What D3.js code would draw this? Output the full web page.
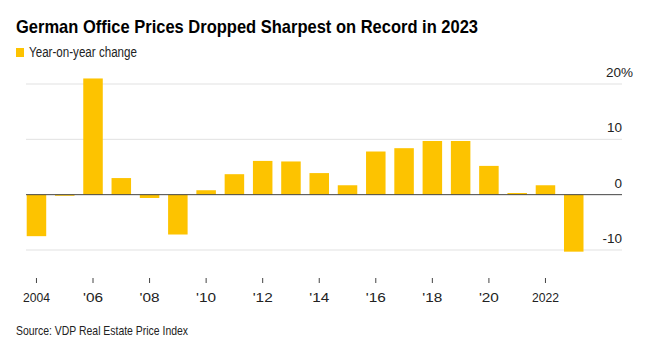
<!DOCTYPE html>
<html>
<head>
<meta charset="utf-8">
<script src="https://cdn.jsdelivr.net/npm/d3@7"></script>
<style>
  body { margin: 0; background: #fff; }
  text { font-family: "Liberation Sans", Arial, sans-serif; }
</style>
</head>
<body>
<script>
// DATA
const years = d3.range(2004, 2024);
const changes = [-7.5, -0.2, 21.0, 3.0, -0.6, -7.2, 0.8, 3.7, 6.1, 6.0,
                 3.9, 1.7, 7.8, 8.4, 9.7, 9.7, 5.2, 0.3, 1.7, -10.3];
const yTicks = [-10, 0, 10, 20];
const xTickYears = [2004, 2006, 2008, 2010, 2012, 2014, 2016, 2018, 2020, 2022];
const xTickLabels = ["2004", "'06", "'08", "'10", "'12", "'14", "'16", "'18", "'20", "2022"];

const WIDTH = 646;
const HEIGHT = 350;
const BAR = "#fdc300";

const svg = d3.select("body").append("svg").attr("width", WIDTH).attr("height", HEIGHT);

// TITLE + LEGEND (reference font is narrower, so squeeze to its widths)
svg.append("text").attr("x", 16).attr("y", 33)
  .attr("font-size", 19).attr("font-weight", "bold").attr("fill", "#000")
  .attr("textLength", 462).attr("lengthAdjust", "spacingAndGlyphs")
  .text("German Office Prices Dropped Sharpest on Record in 2023");
svg.append("rect").attr("x", 16).attr("y", 48).attr("width", 8).attr("height", 9).attr("fill", BAR);
svg.append("text").attr("x", 29).attr("y", 57).attr("font-size", 14).attr("fill", "#222")
  .attr("textLength", 108).attr("lengthAdjust", "spacingAndGlyphs")
  .text("Year-on-year change");

// SCALES
const x = d3.scaleBand().domain(years).range([26.7, 583.5]).paddingInner(0.31).paddingOuter(0);
const y = d3.scaleLinear().domain([-10, 20]).range([250, 84]);

// GRID
const grid = svg.append("g");
grid.selectAll("line").data(yTicks.filter(d => d !== 0)).enter().append("line")
  .attr("x1", 26).attr("x2", 622)
  .attr("y1", d => y(d)).attr("y2", d => y(d))
  .attr("stroke", "#e1e1e1").attr("stroke-width", 1);

grid.selectAll("text").data(yTicks).enter().append("text")
  .attr("x", d => d === 20 ? 606 : 622).attr("y", d => y(d) - 7)
  .attr("text-anchor", d => d === 20 ? "start" : "end")
  .attr("font-size", 13.5).attr("fill", "#222")
  .text(d => d === 20 ? "20%" : d);

// BARS
svg.append("g").selectAll("rect").data(years).enter().append("rect")
  .attr("x", d => x(d))
  .attr("width", x.bandwidth())
  .attr("y", (d, i) => y(Math.max(0, changes[i])))
  .attr("height", (d, i) => Math.abs(y(changes[i]) - y(0)))
  .attr("fill", BAR);

// ZERO LINE
svg.append("line").attr("x1", 26).attr("x2", 622).attr("y1", y(0)).attr("y2", y(0))
  .attr("stroke", "#444").attr("stroke-width", 1);

// X AXIS
const xg = svg.append("g");
xg.selectAll("line").data(xTickYears).enter().append("line")
  .attr("x1", d => x(d) + x.bandwidth() / 2).attr("x2", d => x(d) + x.bandwidth() / 2)
  .attr("y1", 278).attr("y2", 283)
  .attr("stroke", "#444");
xg.selectAll("text").data(xTickYears).enter().append("text")
  .attr("x", d => x(d) + x.bandwidth() / 2).attr("y", 302)
  .attr("text-anchor", "middle").attr("font-size", 13.5).attr("fill", "#222")
  .attr("textLength", (d, i) => xTickLabels[i].length === 4 ? 27 : 20)
  .attr("lengthAdjust", "spacingAndGlyphs")
  .text((d, i) => xTickLabels[i]);

// SOURCE
svg.append("text").attr("x", 16).attr("y", 335).attr("font-size", 13).attr("fill", "#222")
  .attr("textLength", 172).attr("lengthAdjust", "spacingAndGlyphs")
  .text("Source: VDP Real Estate Price Index");
</script>
</body>
</html>
